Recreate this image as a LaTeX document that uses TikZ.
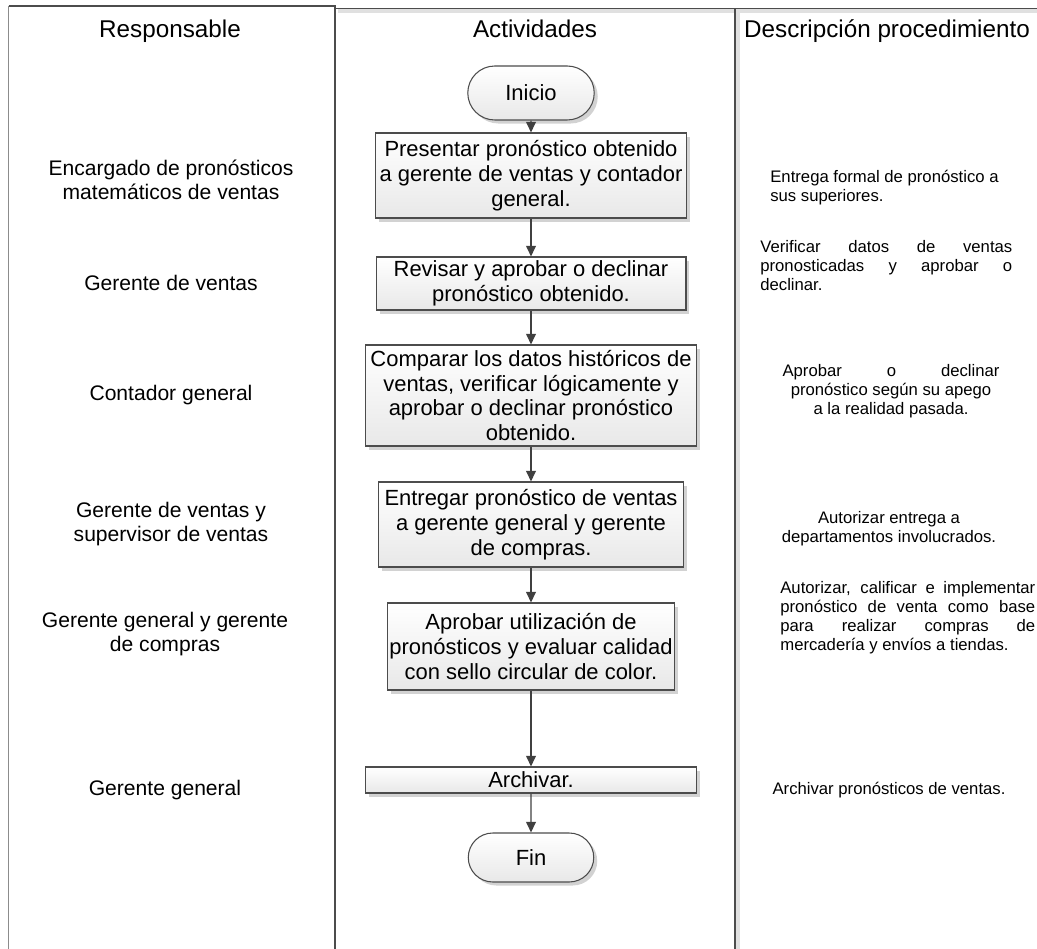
\documentclass[tikz,border=0pt]{standalone}
\usepackage{fontspec}
\setmainfont{Liberation Sans}
\usetikzlibrary{shapes.misc,shadows,arrows.meta}

\tikzset{
	actbox/.style={draw=black!70, line width=0.6pt, top color=white, bottom color=black!9,
		drop shadow={shadow xshift=2pt, shadow yshift=-2pt, fill=black!35, opacity=0.5},
		align=center, inner sep=1pt, font=\fontsize{12.5}{14.2}\selectfont},
	termbox/.style={actbox, rounded rectangle},
	flow/.style={draw=black!75, line width=0.8pt, -{Triangle[length=6pt,width=5.5pt]}},
	head/.style={anchor=base, font=\fontsize{13.8}{15}\selectfont},
	resp/.style={align=center, font=\fontsize{12}{13.6}\selectfont},
	desc/.style={align=left, inner sep=0pt, font=\fontsize{9.5}{10.8}\selectfont},
	lane/.style={draw=black!70, line width=0.8pt},
	laneshadow/.style={draw=black!12, line width=2pt},
}

\begin{document}
\begin{tikzpicture}[x=0.02cm, y=-0.02cm]
			%%%%% START %%%%%
			\useasboundingbox (0, 0) rectangle (1037, 949);
			
			% lanes
			\draw[laneshadow] (338, 11) -- (1037, 11);
			\draw[laneshadow] (738, 11) -- (738, 949);
			\draw[lane, draw=black!45] (8.5, 6) -- (8.5, 949);
			\draw[lane] (8.5, 6) -- (335, 6) -- (335, 949);
			\draw[lane] (335, 8.5) -- (1037, 8.5);
			\draw[lane] (735, 8.5) -- (735, 949);
			
			\node[head] (hresp) at (170, 38) {Responsable};
			\node[head] (hact) at (535, 38) {Actividades};
			\node[head] (hdesc) at (887, 38) {Descripción procedimiento};
			
			% activities
			\node[termbox, minimum width=2.6cm, minimum height=1.08cm] (inicio) at (531, 93) {Inicio};
			\node[actbox, minimum width=6.22cm, minimum height=1.7cm] (presentar) at (531, 175.5)
				{Presentar pronóstico obtenido\\a gerente de ventas y contador\\general.};
			\node[actbox, minimum width=6.2cm, minimum height=1.06cm] (revisar) at (531, 283.5)
				{Revisar y aprobar o declinar\\pronóstico obtenido.};
			\node[actbox, minimum width=6.62cm, minimum height=2.02cm] (comparar) at (531, 395.5)
				{Comparar los datos históricos de\\ventas, verificar lógicamente y\\aprobar o declinar pronóstico\\obtenido.};
			\node[actbox, minimum width=6.1cm, minimum height=1.7cm] (entregar) at (531, 524.5)
				{Entregar pronóstico de ventas\\a gerente general y gerente\\de compras.};
			\node[actbox, minimum width=5.62cm, minimum height=1.74cm] (aprobar) at (531, 646.5)
				{Aprobar utilización de\\pronósticos y evaluar calidad\\con sello circular de color.};
			\node[actbox, minimum width=6.62cm, minimum height=0.52cm] (archivar) at (531, 780) {Archivar.};
			\node[termbox, minimum width=2.58cm, minimum height=0.98cm] (fin) at (531, 857.5) {Fin};
			
			\draw[flow] (inicio) -- (presentar);
			\draw[flow] (presentar) -- (revisar);
			\draw[flow] (revisar) -- (comparar);
			\draw[flow] (comparar) -- (entregar);
			\draw[flow] (entregar) -- (aprobar);
			\draw[flow] (aprobar) -- (archivar);
			\draw[flow] (archivar) -- (fin);
			
			% responsables
			\node[resp] (r1) at (171, 180) {Encargado de pronósticos\\matemáticos de ventas};
			\node[resp] (r2) at (171, 283) {Gerente de ventas};
			\node[resp] (r3) at (171, 395) {Contador general};
			\node[resp] (r4) at (171, 524) {Gerente de ventas y\\supervisor de ventas};
			\node[resp] (r5) at (165, 634) {Gerente general y gerente\\de compras};
			\node[resp] (r6) at (165, 790) {Gerente general};
			
			% descripciones
			\node[desc, anchor=west] (d1) at (770, 188) {Entrega formal de pronóstico a\\sus superiores.};
			\node[desc, anchor=west] (d2) at (760, 266)
				{\makebox[5.04cm][s]{Verificar datos de ventas}\\\makebox[5.04cm][s]{pronosticadas y aprobar o}\\declinar.};
			\node[desc, align=center] (d3) at (891, 391)
				{\makebox[4.34cm][s]{Aprobar o declinar}\\pronóstico según su apego\\a la realidad pasada.};
			\node[desc, align=center] (d4) at (889, 529) {Autorizar entrega a\\departamentos involucrados.};
			\node[desc, anchor=west] (d5) at (780, 618)
				{\makebox[5.1cm][s]{Autorizar, calificar e implementar}\\\makebox[5.1cm][s]{pronóstico de venta como base}\\\makebox[5.1cm][s]{para realizar compras de}\\mercadería y envíos a tiendas.};
			\node[desc] (d6) at (889, 790) {Archivar pronósticos de ventas.};
			
			%%%%% END %%%%%
\end{tikzpicture}
\end{document}
